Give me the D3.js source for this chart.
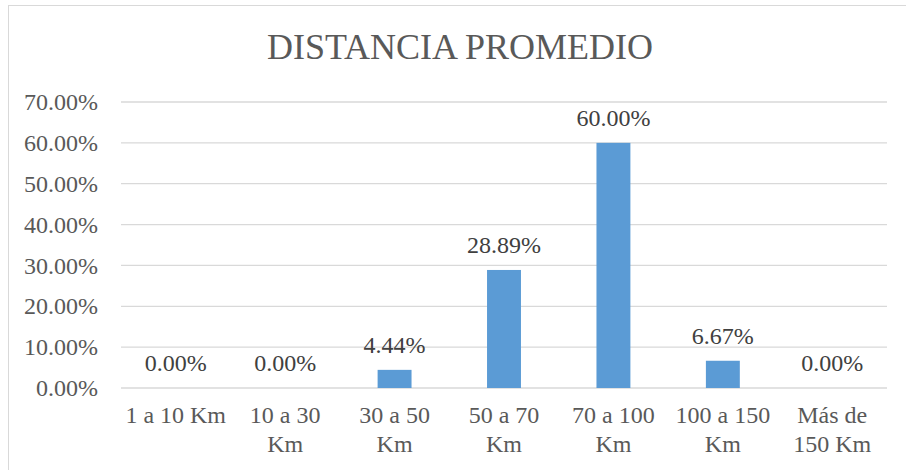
<!DOCTYPE html>
<html lang="es">
<head>
  <meta charset="UTF-8">
  <title>Distancia promedio</title>
  <script src="https://d3js.org/d3.v7.min.js"></script>
  <style>
    body {
      margin: 0;
      padding: 0;
      background-color: #fff;
      font-family: "Liberation Serif", "Times New Roman", serif;
      overflow: hidden;
    }
  </style>
</head>
<body>
  <svg id="chart"></svg>
  <script>
    // chart data
    const categories = ["1 a 10 Km", "10 a 30 Km", "30 a 50 Km", "50 a 70 Km", "70 a 100 Km", "100 a 150 Km", "Más de 150 Km"];
    const categoryLines = [["1 a 10 Km"], ["10 a 30", "Km"], ["30 a 50", "Km"], ["50 a 70", "Km"], ["70 a 100", "Km"], ["100 a 150", "Km"], ["Más de", "150 Km"]];
    const values = [0, 0, 0.0444, 0.2889, 0.60, 0.0667, 0];
    const yTicks = [0, 0.1, 0.2, 0.3, 0.4, 0.5, 0.6, 0.7];
    const title = "DISTANCIA PROMEDIO";

    const width = 906, height = 470;
    const margin = { top: 102, right: 19, bottom: 82, left: 121 };
    const innerW = width - margin.left - margin.right;
    const innerH = height - margin.top - margin.bottom;

    const svg = d3.select("#chart")
      .attr("width", width)
      .attr("height", height);

    // outer chart border (runs off the right and bottom edges)
    svg.append("rect")
      .attr("x", 8.5).attr("y", 5.5)
      .attr("width", 1000).attr("height", 1000)
      .attr("fill", "#fff")
      .attr("stroke", "#d9d9d9");

    svg.append("text")
      .attr("x", 460)
      .attr("y", 59)
      .attr("text-anchor", "middle")
      .attr("fill", "#595959")
      .attr("font-size", "36px")
      .text(title);

    const x = d3.scaleBand().domain(categories).range([0, innerW]).paddingInner(0.69).paddingOuter(0.345);
    const y = d3.scaleLinear().domain([0, 0.7]).range([innerH, 0]);

    const g = svg.append("g").attr("transform", `translate(${margin.left},${margin.top})`);

    // gridlines
    g.selectAll("line.grid")
      .data(yTicks)
      .enter().append("line")
      .attr("class", "grid")
      .attr("x1", 0).attr("x2", innerW)
      .attr("y1", d => y(d)).attr("y2", d => y(d))
      .attr("stroke", "#d9d9d9")
      .attr("stroke-width", 1.3);

    // y axis labels
    const yAxis = d3.axisLeft(y).tickValues(yTicks).tickFormat(d3.format(".2%")).tickSize(0).tickPadding(23);
    const ya = g.append("g").call(yAxis);
    ya.select(".domain").remove();
    ya.selectAll("text")
      .attr("fill", "#595959")
      .attr("font-size", "24px")
      .attr("font-family", "Liberation Serif, serif");

    // bars
    g.selectAll("rect.bar")
      .data(values)
      .enter().append("rect")
      .attr("class", "bar")
      .attr("x", (d, i) => x(categories[i]))
      .attr("y", d => y(d))
      .attr("width", x.bandwidth())
      .attr("height", d => innerH - y(d))
      .attr("fill", "#5b9bd5");

    // data labels
    g.selectAll("text.lbl")
      .data(values)
      .enter().append("text")
      .attr("class", "lbl")
      .attr("x", (d, i) => x(categories[i]) + x.bandwidth() / 2)
      .attr("y", d => y(d) - 17)
      .attr("text-anchor", "middle")
      .attr("fill", "#404040")
      .attr("font-size", "24px")
      .text(d => d3.format(".2%")(d));

    // x category labels (wrapped)
    const xl = g.selectAll("text.xl")
      .data(categoryLines)
      .enter().append("text")
      .attr("class", "xl")
      .attr("x", (d, i) => x(categories[i]) + x.bandwidth() / 2)
      .attr("y", innerH + 35)
      .attr("text-anchor", "middle")
      .attr("fill", "#595959")
      .attr("font-size", "24px");
    xl.selectAll("tspan")
      .data(d => d)
      .enter().append("tspan")
      .attr("x", function() { return this.parentNode.getAttribute("x"); })
      .attr("dy", (d, i) => i === 0 ? 0 : 29)
      .text(d => d);
  </script>
</body>
</html>
